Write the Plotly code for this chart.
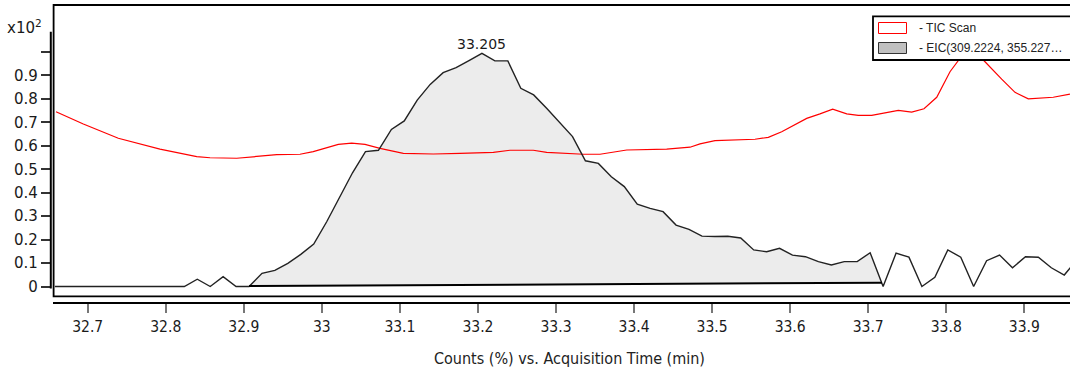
import plotly.graph_objects as go

# ---------------- data ----------------
eic_time = [32.6580, 32.6746, 32.6912, 32.7077, 32.7243, 32.7409, 32.7575, 32.7741, 32.7906, 32.8072,
            32.8238, 32.8404, 32.8570, 32.8735, 32.8901, 32.9067, 32.9233, 32.9398, 32.9564, 32.9730,
            32.9896, 33.0062, 33.0227, 33.0393, 33.0559, 33.0725, 33.0891, 33.1056, 33.1222, 33.1388,
            33.1554, 33.1720, 33.1885, 33.2051, 33.2217, 33.2383, 33.2549, 33.2714, 33.2880, 33.3046,
            33.3212, 33.3377, 33.3543, 33.3709, 33.3875, 33.4041, 33.4206, 33.4372, 33.4538, 33.4704,
            33.4870, 33.5035, 33.5201, 33.5367, 33.5533, 33.5699, 33.5864, 33.6030, 33.6196, 33.6362,
            33.6528, 33.6693, 33.6859, 33.7025, 33.7191, 33.7357, 33.7522, 33.7688, 33.7854, 33.8020,
            33.8186, 33.8351, 33.8517, 33.8683, 33.8849, 33.9015, 33.9180, 33.9346, 33.9512, 33.9678]
eic_counts = [0, 0, 0, 0, 0, 0, 0, 0, 0, 0,
              0, 0.031, 0, 0.042, 0, 0, 0.056, 0.069, 0.099, 0.137,
              0.181, 0.276, 0.383, 0.485, 0.575, 0.581, 0.670, 0.706, 0.795, 0.862,
              0.912, 0.933, 0.963, 0.994, 0.962, 0.962, 0.845, 0.817, 0.760, 0.699,
              0.639, 0.536, 0.525, 0.468, 0.426, 0.351, 0.333, 0.319, 0.262, 0.244,
              0.215, 0.213, 0.214, 0.207, 0.156, 0.148, 0.163, 0.134, 0.127, 0.106,
              0.092, 0.106, 0.106, 0.144, 0.0, 0.142, 0.125, 0.0, 0.039, 0.156,
              0.125, 0.0, 0.110, 0.134, 0.080, 0.127, 0.125, 0.080, 0.049, 0.115]

tic_time = [32.6594, 32.6944, 32.7392, 32.7734, 32.7926, 32.8397, 32.8567, 32.8909, 32.9079, 32.9422,
            32.9720, 32.9890, 33.0211, 33.0382, 33.0553, 33.0745, 33.1044, 33.1428, 33.1770, 33.2197,
            33.2411, 33.2709, 33.2881, 33.3350, 33.3564, 33.3906, 33.4418, 33.4717, 33.4845, 33.5037,
            33.5550, 33.5720, 33.5892, 33.6212, 33.6382, 33.6545, 33.6725, 33.6873, 33.7045, 33.7215,
            33.7386, 33.7557, 33.7715, 33.7878, 33.8048, 33.8304, 33.8475, 33.8710, 33.8881, 33.9051,
            33.9371, 33.9585]
tic_counts = [0.745, 0.693, 0.632, 0.603, 0.586, 0.554, 0.549, 0.547, 0.551, 0.562,
              0.564, 0.575, 0.606, 0.611, 0.606, 0.589, 0.568, 0.565, 0.568, 0.572,
              0.581, 0.581, 0.572, 0.564, 0.564, 0.582, 0.586, 0.594, 0.608, 0.622,
              0.628, 0.636, 0.660, 0.717, 0.736, 0.756, 0.736, 0.730, 0.730, 0.741,
              0.751, 0.744, 0.758, 0.807, 0.916, 1.030, 0.966, 0.884, 0.828, 0.800,
              0.807, 0.820]

# integration of the EIC peak
integ_start_time = 32.9067
integ_end_time = 33.7176
integ_start_level = 0.002
integ_end_level = 0.016
peak_rt = 33.205
peak_label = "33.205"

x_tick_vals = [32.7, 32.8, 32.9, 33.0, 33.1, 33.2, 33.3, 33.4, 33.5, 33.6, 33.7, 33.8, 33.9]
x_tick_text = ["32.7", "32.8", "32.9", "33", "33.1", "33.2", "33.3", "33.4", "33.5", "33.6", "33.7", "33.8", "33.9"]
y_tick_vals = [0, 0.1, 0.2, 0.3, 0.4, 0.5, 0.6, 0.7, 0.8, 0.9]
y_tick_text = ["0", "0.1", "0.2", "0.3", "0.4", "0.5", "0.6", "0.7", "0.8", "0.9"]
y_unlabelled_ticks = [1.0]

series_names = ["- TIC Scan", "- EIC(309.2224, 355.227\u2026"]
x_title = "Counts (%) vs. Acquisition Time (min)"
y_exponent = "x10<sup>2</sup>"

# ---------------- layout geometry (pixels) ----------------
W_FIG, H_FIG = 1070, 373
L, T = 45, 5
PW, PH = W_FIG - L, 303 - T   # plotting region (paper)


def px_x(px):
    return (px - L) / PW


def px_y(py):
    return (T + PH - py) / PH


# fill polygon of the integrated peak, built from the data
fill_x, fill_y = [], []
for t, v in zip(eic_time, eic_counts):
    if integ_start_time <= t <= integ_end_time:
        fill_x.append(t)
        fill_y.append(v)
fill_x += [integ_end_time, integ_start_time]
fill_y += [integ_end_level, integ_start_level]

fig = go.Figure()
fig.add_trace(go.Scatter(x=fill_x, y=fill_y, mode="lines", fill="toself",
                         fillcolor="#ececec", line=dict(width=0), hoverinfo="skip",
                         showlegend=False))
fig.add_trace(go.Scatter(x=tic_time, y=tic_counts, mode="lines", name=series_names[0],
                         line=dict(color="#ff0000", width=1.2), showlegend=False))
fig.add_trace(go.Scatter(x=eic_time, y=eic_counts, mode="lines", name=series_names[1],
                         line=dict(color="#222222", width=1.4), showlegend=False))
fig.add_trace(go.Scatter(x=[integ_start_time, integ_end_time],
                         y=[integ_start_level, integ_end_level], mode="lines",
                         line=dict(color="#000000", width=2), hoverinfo="skip",
                         showlegend=False))

shapes = [
    # plot frame
    dict(type="rect", xref="paper", yref="paper", x0=px_x(53.6), x1=px_x(1076),
         y0=px_y(296.3), y1=px_y(5), line=dict(color="#000000", width=1.8),
         fillcolor="rgba(0,0,0,0)", layer="above"),
    # y axis line
    dict(type="line", xref="paper", yref="paper", x0=px_x(50.8), x1=px_x(50.8),
         y0=px_y(288.5), y1=px_y(31.7), line=dict(color="#000000", width=2), layer="above"),
    # legend box
    dict(type="rect", xref="paper", yref="paper", x0=px_x(873), x1=px_x(1076),
         y0=px_y(60), y1=px_y(16.3), line=dict(color="#000000", width=1.8),
         fillcolor="#ffffff", layer="above"),
    dict(type="rect", xref="paper", yref="paper", x0=px_x(878.5), x1=px_x(906.5),
         y0=px_y(33.5), y1=px_y(22.5), line=dict(color="#ff0000", width=1),
         fillcolor="#ffffff", layer="above"),
    dict(type="rect", xref="paper", yref="paper", x0=px_x(878.5), x1=px_x(906.5),
         y0=px_y(53.5), y1=px_y(42.5), line=dict(color="#333333", width=1),
         fillcolor="#c0c0c0", layer="above"),
]

annotations = [
    dict(text=series_names[0], xref="paper", yref="paper", x=px_x(917), y=px_y(28),
         xanchor="left", yanchor="middle", showarrow=False,
         font=dict(family="Liberation Sans, Arial", size=12, color="#222222")),
    dict(text=series_names[1], xref="paper", yref="paper", x=px_x(917), y=px_y(48),
         xanchor="left", yanchor="middle", showarrow=False,
         font=dict(family="Liberation Sans, Arial", size=12, color="#222222")),
    dict(text=peak_label, xref="x", yref="paper", x=peak_rt, y=px_y(44),
         xanchor="center", yanchor="middle", showarrow=False,
         font=dict(family="DejaVu Sans", size=14, color="#1a1a1a")),
    dict(text=y_exponent, xref="paper", yref="paper", x=px_x(5), y=px_y(27),
         xanchor="left", yanchor="middle", showarrow=False,
         font=dict(family="DejaVu Sans", size=15, color="#1a1a1a")),
    dict(text=x_title, xref="paper", yref="paper", x=px_x(569), y=px_y(358),
         xanchor="center", yanchor="middle", showarrow=False,
         font=dict(family="DejaVu Sans Condensed, Liberation Sans Narrow, DejaVu Sans",
                   size=16, color="#222222")),
]

# data ranges matching the pixel mapping
x_lo = 32.7 - (87.7 - 53) / 780.5
x_hi = 32.7 + (1070 - 87.7) / 780.5
y_lo = -(296 - 286.5) / 234.5
y_hi = (286.5 - 5) / 234.5

fig.update_layout(
    width=W_FIG, height=H_FIG, autosize=False,
    margin=dict(l=L, r=0, t=T, b=H_FIG - T - PH, pad=0),
    plot_bgcolor="#ffffff", paper_bgcolor="#ffffff",
    showlegend=False,
    xaxis=dict(domain=[px_x(53), 1], range=[x_lo, x_hi], anchor="free", position=0,
               showline=True, linecolor="#000000", linewidth=2,
               ticks="outside", ticklen=9, tickwidth=1.5, tickcolor="#777777",
               tickvals=x_tick_vals, ticktext=x_tick_text,
               tickfont=dict(family="DejaVu Sans Condensed, Liberation Sans Narrow, DejaVu Sans",
                             size=15.5, color="#1a1a1a"),
               showgrid=False, zeroline=False, automargin=False),
    yaxis=dict(domain=[px_y(296), 1], range=[y_lo, y_hi], anchor="free",
               position=px_x(50.8), showline=False,
               ticks="outside", ticklen=10, tickwidth=1.5, tickcolor="#333333",
               tickvals=y_tick_vals, ticktext=y_tick_text,
               minor=dict(tickvals=y_unlabelled_ticks, ticks="outside", ticklen=10,
                          tickwidth=1.5, tickcolor="#333333", showgrid=False),
               tickfont=dict(family="DejaVu Sans", size=15, color="#1a1a1a"),
               showgrid=False, zeroline=False, automargin=False),
    shapes=shapes,
    annotations=annotations,
)

fig.write_html("out.html", config={"displayModeBar": False},
               post_script="document.body.style.margin='0';document.body.style.overflow='hidden';")
